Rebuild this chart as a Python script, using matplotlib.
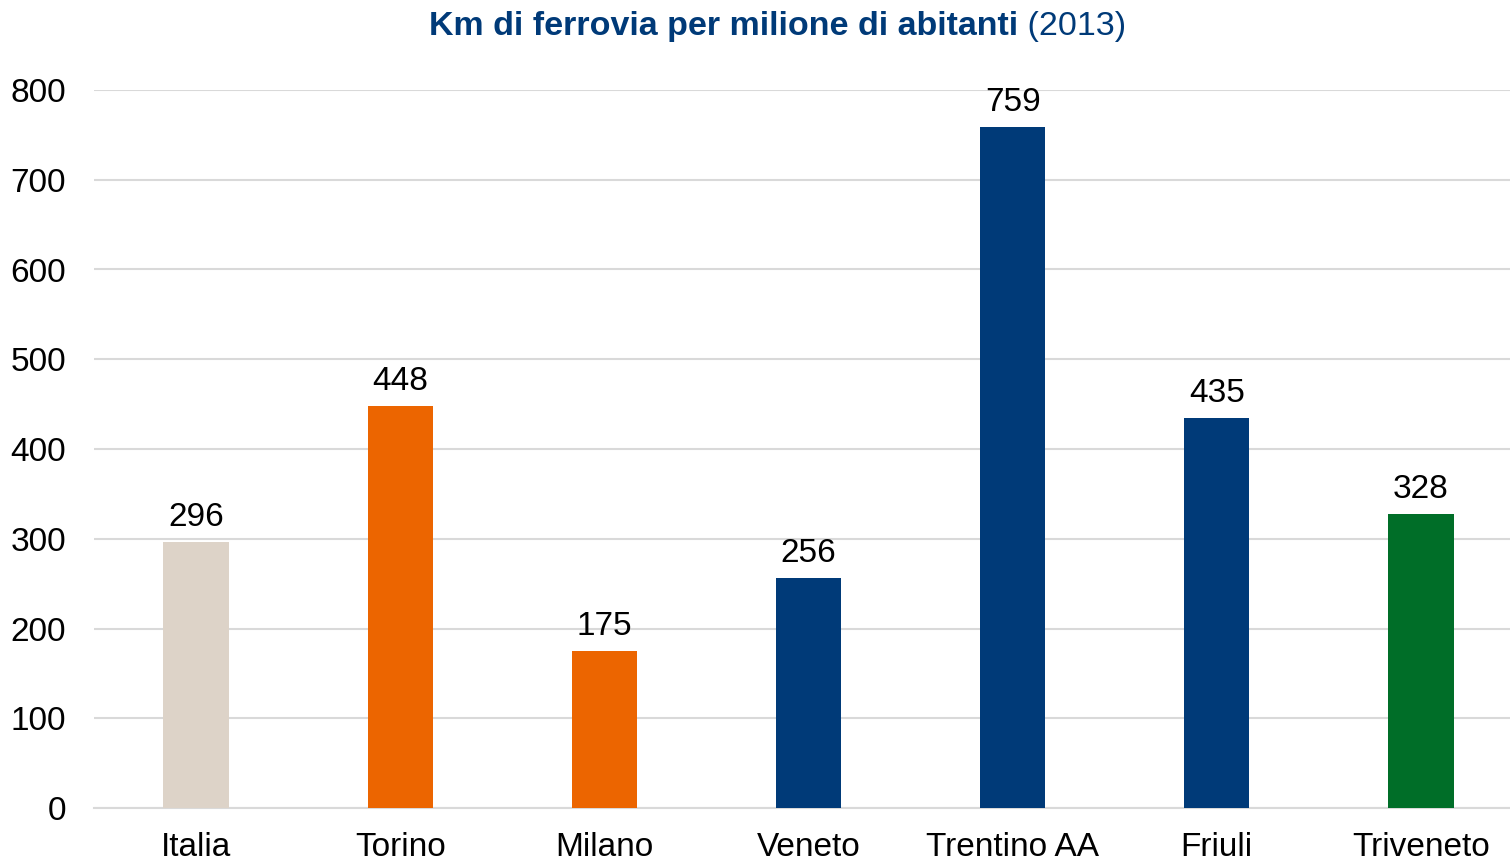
import matplotlib
matplotlib.use("Agg")
import matplotlib.pyplot as plt

categories = ['Italia', 'Torino', 'Milano', 'Veneto', 'Trentino AA', 'Friuli', 'Triveneto']
values = [296, 448, 175, 256, 759, 435, 328]
colors = ['#DDD3C8', '#EC6500', '#EC6500', '#003A78', '#003A78', '#003A78', '#006E28']
yticks = [0, 100, 200, 300, 400, 500, 600, 700, 800]

plt.rcParams['font.family'] = ['Liberation Sans', 'DejaVu Sans']

fig = plt.figure(figsize=(15.1, 8.63), dpi=100)
# plot area runs slightly past the right edge of the figure, as in the original
ax = fig.add_axes([94 / 1510, 1 - 808 / 863, 1429 / 1510, 718 / 863])

x = range(len(categories))
ax.bar(x, values, width=0.32, color=colors, zorder=3)
for i, v in zip(x, values):
    ax.text(i, v + 10, str(v), ha='center', va='bottom', fontsize=24, color='black')

ax.set_xlim(-0.5, len(categories) - 0.5)
ax.set_ylim(0, 800)
ax.set_yticks(yticks)
ax.set_xticks(list(x))
ax.set_xticklabels(categories)
ax.tick_params(axis='both', length=0, labelsize=24, colors='black')
ax.tick_params(axis='y', pad=20)
ax.tick_params(axis='x', pad=17)
ax.grid(axis='y', color='#D9D9D9', linewidth=1.5, zorder=0)
ax.set_axisbelow(True)
for s in ['top', 'right', 'left']:
    ax.spines[s].set_visible(False)
ax.spines['bottom'].set_color('#D9D9D9')
ax.spines['bottom'].set_linewidth(1.5)

# title: bold part + normal part
fig.canvas.draw()
r = fig.canvas.get_renderer()
t1 = fig.text(0, 1 - 26 / 863, 'Km di ferrovia per milione di abitanti', fontsize=24.5,
              fontweight='bold', color='#003A78', va='center', ha='left')
t2 = fig.text(0, 1 - 26 / 863, ' (2013)', fontsize=24.5, color='#003A78', va='center', ha='left')
w1 = t1.get_window_extent(r).width
w2 = t2.get_window_extent(r).width
x0 = 778 - (w1 + w2) / 2
t1.set_x(x0 / 1510)
t2.set_x((x0 + w1) / 1510)

fig.savefig('out.png', dpi=100)
